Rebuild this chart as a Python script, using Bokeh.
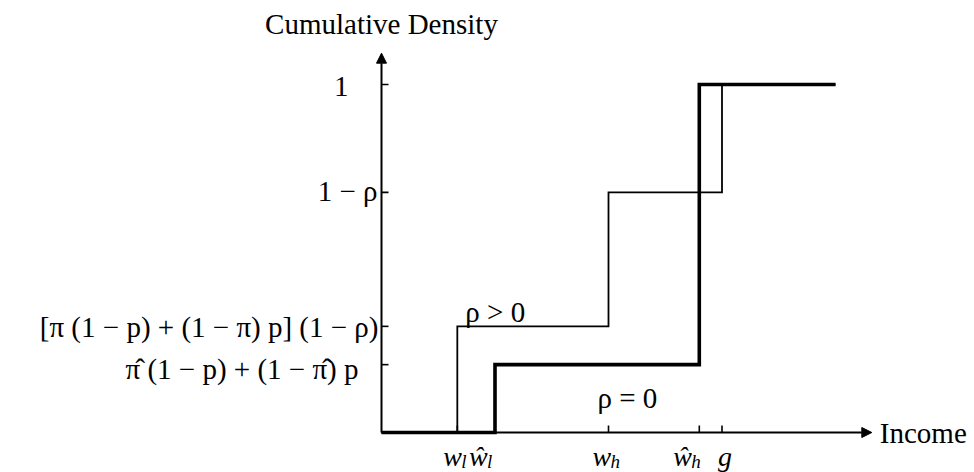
import numpy as np
from bokeh.plotting import figure
from bokeh.models import Range1d, Arrow, NormalHead, ColumnDataSource
from bokeh.core.properties import value
from bokeh.embed import file_html
from bokeh.resources import INLINE

# ---------------- data ----------------
x_tick_values = [1.67, 2.5, 5.0, 7.0, 7.5]
x_tick_base = ["w", "ŵ", "w", "ŵ", "g"]
x_tick_sub = ["l", "l", "h", "h", ""]

y_tick_values = [1.0, 0.69, 0.305, 0.195]
y_tick_labels = ["1", "1 − ρ", "[π (1 − p) + (1 − π) p] (1 − ρ)", "π\u0302 (1 − p) + (1 − π\u0302) p"]

rho_pos_x = [0.0, 1.67, 5.0, 7.5, 10.0]
rho_pos_y = [0.0, 0.305, 0.69, 1.0, 1.0]
rho_zero_x = [0.0, 2.5, 7.0, 10.0]
rho_zero_y = [0.0, 0.195, 1.0, 1.0]

series_labels = ["ρ > 0", "ρ = 0"]
x_axis_label = "Income"
y_axis_label = "Cumulative Density"
x_axis_max = 10.8
y_axis_max = 1.09

# ---------------- layout ----------------
W, H = 974, 472
ox, oy = 381, 432                  # origin in canvas px
sx, sy = 45.4, 348.0               # px per data unit

FONT = value("Liberation Serif")
FS = "29px"

p = figure(width=W, height=H, output_backend="svg", toolbar_location=None,
           x_range=Range1d(-ox / sx, (W - ox) / sx),
           y_range=Range1d(-(H - oy) / sy, oy / sy),
           x_axis_type=None, y_axis_type=None, min_border=0,
           outline_line_color=None, background_fill_color="white",
           border_fill_color="white")

# step curves
p.step(rho_pos_x, rho_pos_y, mode="after", line_width=1.8, line_color="black",
       line_join="miter")
p.step(rho_zero_x, rho_zero_y, mode="after", line_width=3.6, line_color="black",
       line_join="miter")

# axes with arrows
p.add_layout(Arrow(end=NormalHead(size=10, fill_color="black", line_color="black", line_width=1),
                   x_start=0, y_start=0, x_end=x_axis_max, y_end=0,
                   line_width=2, line_color="black"))
p.add_layout(Arrow(end=NormalHead(size=10, fill_color="black", line_color="black", line_width=1),
                   x_start=0, y_start=0, x_end=0, y_end=y_axis_max,
                   line_width=2, line_color="black"))

# ticks
p.ray(x=[0] * len(y_tick_values), y=y_tick_values, length=7, length_units="screen",
      angle=0, line_width=1.6, line_color="black")
p.ray(x=x_tick_values, y=[0] * len(x_tick_values), length=7, length_units="screen",
      angle=np.pi / 2, line_width=1.6, line_color="black")

# y tick labels
ysrc = ColumnDataSource(dict(x=[0] * len(y_tick_values), y=y_tick_values, t=y_tick_labels,
                             xo=[-33, -4, -3, -23], yo=[2, -1, 1, 4]))
p.text(x="x", y="y", text="t", x_offset="xo", y_offset="yo", source=ysrc,
       text_align="right", text_baseline="middle", text_font=FONT,
       text_font_size=FS, text_color="black")

# x tick labels
base_xo = [-14, -26, -16, -26, -4]
xsrc = ColumnDataSource(dict(x=x_tick_values, y=[0] * len(x_tick_values), t=x_tick_base,
                             xo=base_xo))
p.text(x="x", y="y", text="t", x_offset="xo", y_offset=24, source=xsrc,
       text_align="left", text_baseline="alphabetic", text_font=FONT,
       text_font_style="italic", text_font_size="28px", text_color="black")
ssrc = ColumnDataSource(dict(x=x_tick_values, y=[0] * len(x_tick_values), t=x_tick_sub,
                             xo=[v + 18 for v in base_xo]))
p.text(x="x", y="y", text="t", x_offset="xo", y_offset=29, source=ssrc,
       text_align="left", text_baseline="alphabetic", text_font=FONT,
       text_font_style="italic", text_font_size="19px", text_color="black")

# series labels
lsrc = ColumnDataSource(dict(x=[rho_pos_x[1], rho_zero_x[2] - 2.0], y=[rho_pos_y[1], rho_zero_y[1]],
                             t=series_labels, xo=[8, -11], yo=[-14, 33]))
p.text(x="x", y="y", text="t", x_offset="xo", y_offset="yo", source=lsrc,
       text_align="left", text_baseline="alphabetic", text_font=FONT,
       text_font_size=FS, text_color="black")

# axis titles
p.text(x=[x_axis_max], y=[0], text=[x_axis_label], x_offset=8, y_offset=0,
       text_align="left", text_baseline="middle", text_font=FONT,
       text_font_size=FS, text_color="black")
p.text(x=[0], y=[y_axis_max], text=[y_axis_label], x_offset=0, y_offset=-29,
       text_align="center", text_baseline="middle", text_font=FONT,
       text_font_size=FS, text_color="black")

open("out.html", "w").write(file_html(p, INLINE))
